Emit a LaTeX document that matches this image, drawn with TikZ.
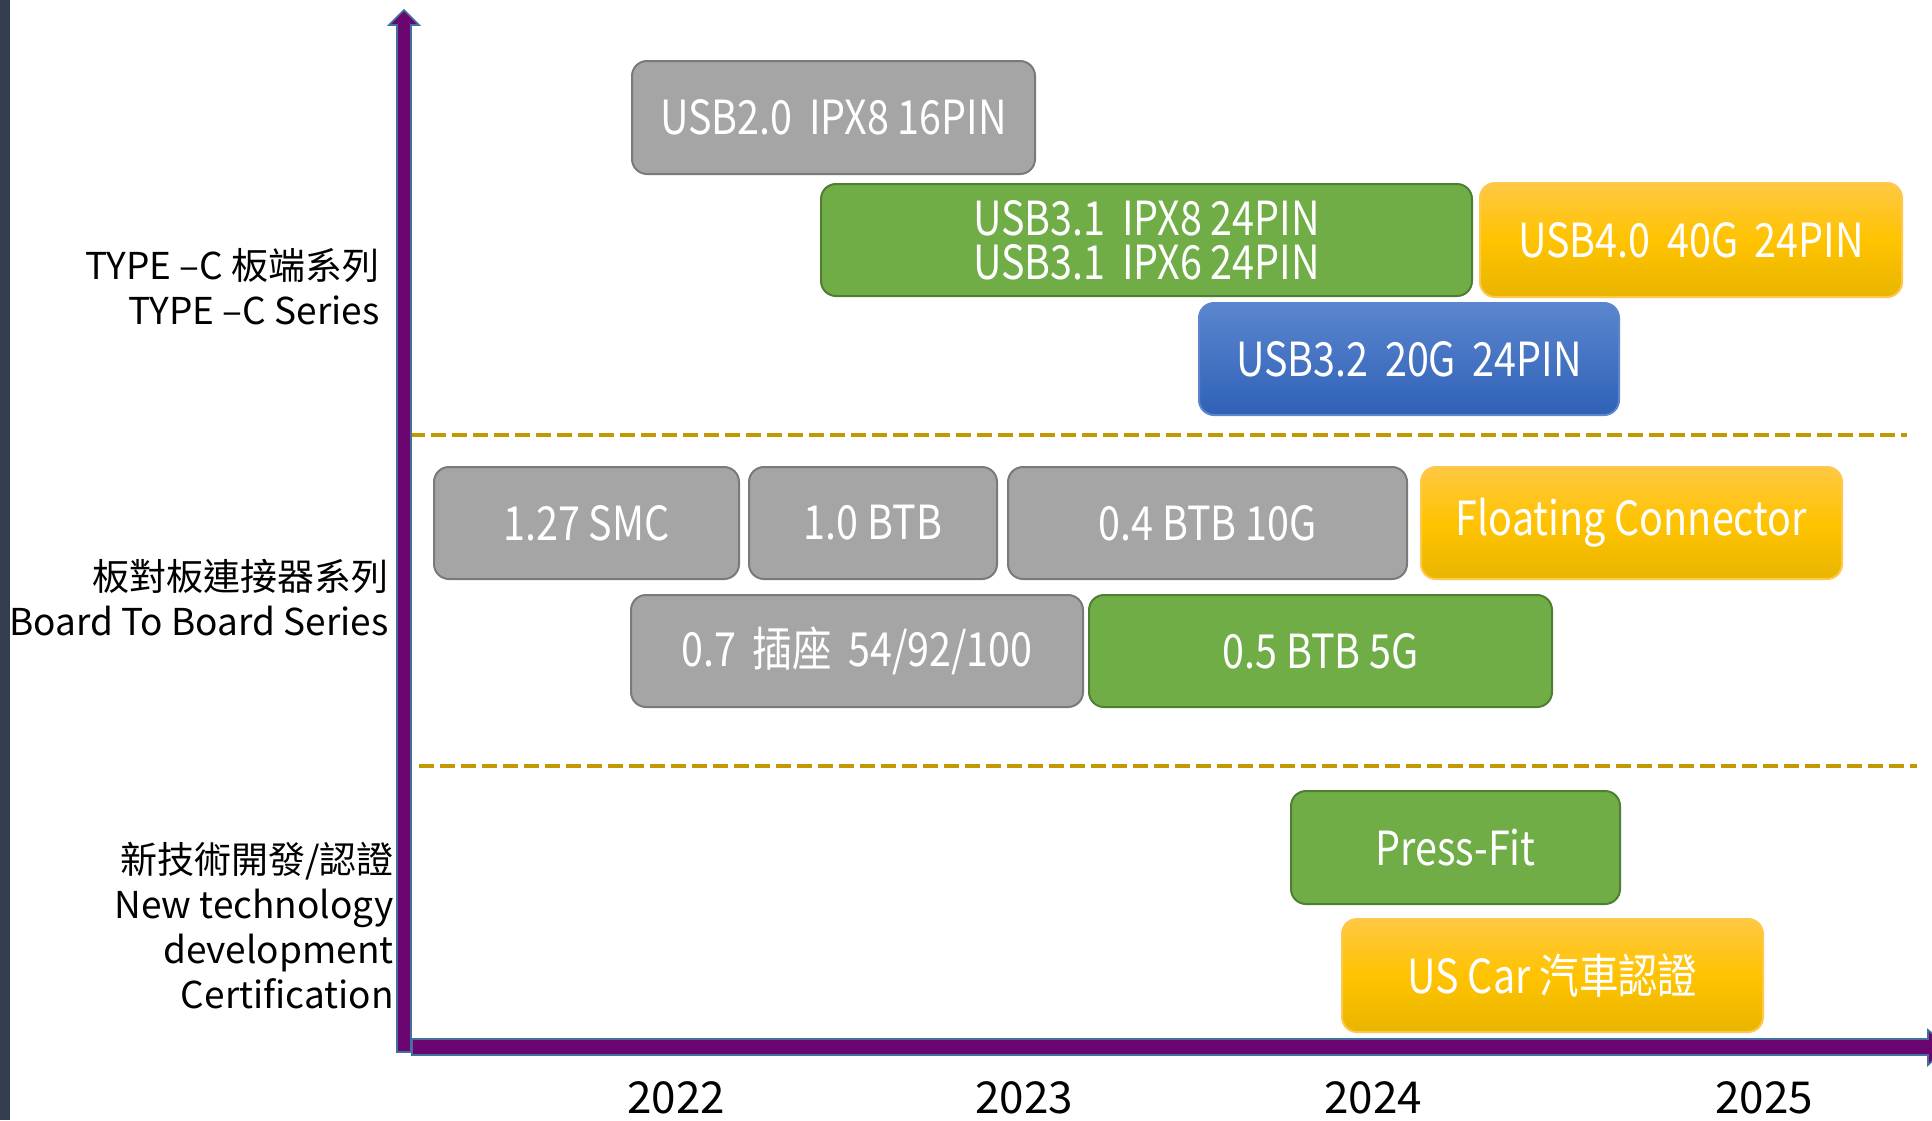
\documentclass[tikz,border=0pt]{standalone}
\usepackage{fontspec}
\setmainfont{Noto Sans CJK TC}
\newfontfamily\cjk{Noto Sans CJK TC}
\newfontfamily\boxfont[FakeStretch=0.84]{Noto Sans CJK TC}
\definecolor{grayfill}{HTML}{A5A5A5}
\definecolor{grayline}{HTML}{7A7A7A}
\definecolor{greenfill}{HTML}{70AD47}
\definecolor{greenline}{HTML}{507E32}
\definecolor{yeltop}{HTML}{FFC843}
\definecolor{yelmid}{HTML}{FFC300}
\definecolor{yelbot}{HTML}{E9B500}
\definecolor{yelline}{HTML}{FFC84A}
\definecolor{bluetop}{HTML}{5B86CE}
\definecolor{bluebot}{HTML}{2F61B8}
\definecolor{axisfill}{HTML}{6B0670}
\definecolor{axisline}{HTML}{41719C}
\definecolor{dashcol}{HTML}{C39800}
\definecolor{sidebar}{HTML}{323E50}
\tikzset{
  x=0.5pt, y=-0.5pt,
  boxbase/.style={rounded corners=7.5pt, line width=1pt, text=white, font=\boxfont\fontsize{23.5}{22}\selectfont, align=center, inner sep=0pt},
  graybox/.style={boxbase, fill=grayfill, draw=grayline},
  greenbox/.style={boxbase, fill=greenfill, draw=greenline},
  yellowbox/.style={boxbase, top color=yeltop, bottom color=yelbot, middle color=yelmid, draw=yelline},
  bluebox/.style={boxbase, top color=bluetop, bottom color=bluebot, draw=bluetop},
  sidelabel/.style={align=right, anchor=east, font=\fontsize{18.5}{22.5}\selectfont, inner sep=0pt},
  yearlabel/.style={font=\fontsize{22}{26}\selectfont, inner sep=0pt},
  sep/.style={draw=dashcol, line width=2pt, dash pattern=on 7.5pt off 3pt}
}
\begin{document}
\begin{tikzpicture}
\useasboundingbox (0,0) rectangle (1932,1120);
\fill[white] (0,0) rectangle (1932,1120);
\fill[sidebar] (0,0) rectangle (10,1120);
% separators
\coordinate (s1a) at (410,435); \coordinate (s1b) at (1907,435);
\coordinate (s2a) at (419,766); \coordinate (s2b) at (1917,766);
\draw[sep] (s1a) -- (s1b);
\draw[sep] (s2a) -- (s2b);
% axes
\begin{scope}
\clip (0,0) rectangle (1932,1120);
\filldraw[fill=axisfill, draw=axisline, line width=0.8pt]
  (412,1039) -- (1928,1039) -- (1928,1030) -- (1948,1047) -- (1928,1065) -- (1928,1055) -- (412,1055) -- cycle;
\filldraw[fill=axisfill, draw=axisline, line width=0.8pt]
  (397,1052) -- (397,25) -- (389,25) -- (404,10) -- (419,25) -- (411,25) -- (411,1052) -- cycle;
\end{scope}
% boxes: TYPE-C
\node[graybox, minimum width=201.5pt, minimum height=56.5pt] (u20) at (833.5,117.5) {USB2.0\, IPX8 16PIN};
\node[greenbox, minimum width=325.5pt, minimum height=56pt] (u31) at (1146.5,240) {USB3.1\, IPX8 24PIN\\USB3.1\, IPX6 24PIN};
\node[yellowbox, minimum width=211pt, minimum height=57pt] (u40) at (1691,240) {USB4.0\, 40G\, 24PIN};
\node[bluebox, minimum width=210pt, minimum height=56pt] (u32) at (1409,359) {USB3.2\, 20G\, 24PIN};
% board to board
\node[graybox, minimum width=152.5pt, minimum height=56pt] (smc) at (586.5,523) {1.27 SMC};
\node[graybox, minimum width=124pt, minimum height=56pt] (btb1) at (873,523) {1.0 BTB};
\node[graybox, minimum width=199.5pt, minimum height=56pt] (btb04) at (1207.5,523) {0.4 BTB 10G};
\node[yellowbox, minimum width=210.5pt, minimum height=56pt] (float) at (1631.5,523) {Floating Connector};
\node[graybox, minimum width=226pt, minimum height=56pt] (sock) at (857,651) {0.7\, 插座\, 54/92/100};
\node[greenbox, minimum width=231.5pt, minimum height=56pt] (btb05) at (1320.5,651) {0.5 BTB 5G};
% new tech
\node[greenbox, minimum width=164.5pt, minimum height=56.5pt] (press) at (1455.5,847.5) {Press-Fit};
\node[yellowbox, minimum width=210.5pt, minimum height=56.5pt] (car) at (1552.5,975.5) {US Car 汽車認證};
% side labels
\node[sidelabel] (lab1) at (380,287) {TYPE –C 板端系列\\TYPE –C Series};
\node[sidelabel] (lab2) at (389,598) {板對板連接器系列\\Board To Board Series};
\node[sidelabel] (lab3) at (394,926) {新技術開發/認證\\New technology\\development\\Certification};
% years
\node[yearlabel] (y22) at (676,1098) {2022};
\node[yearlabel] (y23) at (1024,1098) {2023};
\node[yearlabel] (y24) at (1373,1098) {2024};
\node[yearlabel] (y25) at (1764,1098) {2025};
\end{tikzpicture}
\end{document}
